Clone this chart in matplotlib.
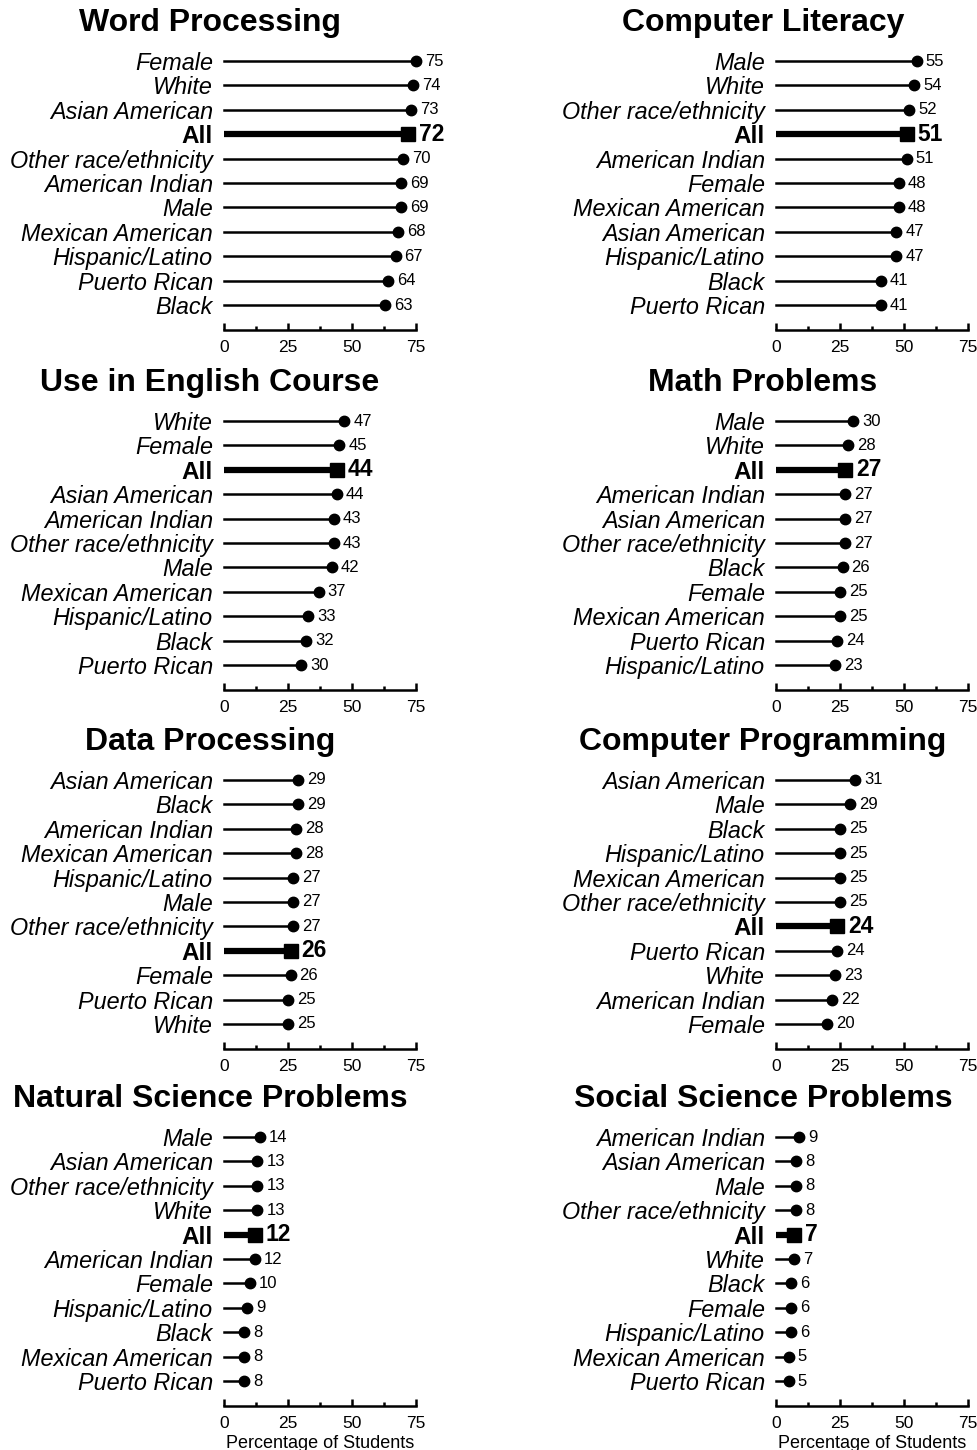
import matplotlib
matplotlib.use('Agg')
import matplotlib.pyplot as plt
from matplotlib.ticker import MultipleLocator

plt.rcParams['font.family'] = ['Liberation Sans', 'DejaVu Sans']

# ---- data (percentage of students) ----
wp_labels = ['Female', 'White', 'Asian American', 'All', 'Other race/ethnicity',
             'American Indian', 'Male', 'Mexican American', 'Hispanic/Latino',
             'Puerto Rican', 'Black']
wp_values = [75, 74, 73, 72, 70, 69, 69, 68, 67, 64, 63]

cl_labels = ['Male', 'White', 'Other race/ethnicity', 'All', 'American Indian',
             'Female', 'Mexican American', 'Asian American', 'Hispanic/Latino',
             'Black', 'Puerto Rican']
cl_values = [55, 54, 52, 51, 51, 48, 48, 47, 47, 41, 41]

en_labels = ['White', 'Female', 'All', 'Asian American', 'American Indian',
             'Other race/ethnicity', 'Male', 'Mexican American', 'Hispanic/Latino',
             'Black', 'Puerto Rican']
en_values = [47, 45, 44, 44, 43, 43, 42, 37, 33, 32, 30]

mp_labels = ['Male', 'White', 'All', 'American Indian', 'Asian American',
             'Other race/ethnicity', 'Black', 'Female', 'Mexican American',
             'Puerto Rican', 'Hispanic/Latino']
mp_values = [30, 28, 27, 27, 27, 27, 26, 25, 25, 24, 23]

dp_labels = ['Asian American', 'Black', 'American Indian', 'Mexican American',
             'Hispanic/Latino', 'Male', 'Other race/ethnicity', 'All', 'Female',
             'Puerto Rican', 'White']
dp_values = [29, 29, 28, 28, 27, 27, 27, 26, 26, 25, 25]

cp_labels = ['Asian American', 'Male', 'Black', 'Hispanic/Latino', 'Mexican American',
             'Other race/ethnicity', 'All', 'Puerto Rican', 'White',
             'American Indian', 'Female']
cp_values = [31, 29, 25, 25, 25, 25, 24, 24, 23, 22, 20]

ns_labels = ['Male', 'Asian American', 'Other race/ethnicity', 'White', 'All',
             'American Indian', 'Female', 'Hispanic/Latino', 'Black',
             'Mexican American', 'Puerto Rican']
ns_values = [14, 13, 13, 13, 12, 12, 10, 9, 8, 8, 8]

ss_labels = ['American Indian', 'Asian American', 'Male', 'Other race/ethnicity',
             'All', 'White', 'Black', 'Female', 'Hispanic/Latino',
             'Mexican American', 'Puerto Rican']
ss_values = [9, 8, 8, 8, 7, 7, 6, 6, 6, 5, 5]

panels = [
    ('Word Processing', wp_labels, wp_values),
    ('Computer Literacy', cl_labels, cl_values),
    ('Use in English Course', en_labels, en_values),
    ('Math Problems', mp_labels, mp_values),
    ('Data Processing', dp_labels, dp_values),
    ('Computer Programming', cp_labels, cp_values),
    ('Natural Science Problems', ns_labels, ns_values),
    ('Social Science Problems', ss_labels, ss_values),
]

# ---- layout in pixels ----
W, H = 978, 1450
col_x0 = [224, 776]        # pixel x of value 0
ax_w = 192                 # pixel width for 0..75
row_y0 = [61, 421, 780, 1137]   # first category y per panel row
title_cx = [210, 763]
dy = 24.4
gap = 25


def draw_panel(fig, title, labels, values, col, row):
    y0 = row_y0[row]
    top = y0 - 0.5 * dy
    spine = y0 + 10 * dy + gap
    ax = fig.add_axes([col_x0[col] / W, 1 - spine / H, ax_w / W, (spine - top) / H])
    n = len(labels)
    ys = list(range(n))
    for y, lab, v in zip(ys, labels, values):
        if lab == 'All':
            ax.plot([0, v], [y, y], color='black', lw=4.5, solid_capstyle='butt',
                    clip_on=False)
            ax.plot(v, y, marker='s', ms=10.5, color='black', clip_on=False)
            ax.annotate(str(v), (v, y), xytext=(8, 0), textcoords='offset points',
                        va='center', ha='left', fontsize=16.5, fontweight='bold')
        else:
            ax.plot([0, v], [y, y], color='black', lw=1.8, clip_on=False)
            ax.plot(v, y, marker='o', ms=7.5, color='black', clip_on=False)
            ax.annotate(str(v), (v, y), xytext=(6.5, 0), textcoords='offset points',
                        va='center', ha='left', fontsize=12)

    ax.set_xlim(0, 75)
    ax.set_ylim(n - 1 + gap / dy, -0.5)
    ax.set_yticks(ys)
    ax.set_yticklabels(labels)
    for t, lab in zip(ax.get_yticklabels(), labels):
        if lab == 'All':
            t.set_fontweight('bold')
            t.set_fontsize(17.5)
        else:
            t.set_fontstyle('italic')
            t.set_fontsize(16.8)
    ax.tick_params(axis='y', length=0, pad=8)
    ax.xaxis.set_major_locator(MultipleLocator(25))
    ax.xaxis.set_minor_locator(MultipleLocator(12.5))
    ax.tick_params(axis='x', which='major', direction='in', length=5, width=1.8,
                   labelsize=12.5, pad=7)
    ax.tick_params(axis='x', which='minor', direction='in', length=3, width=1.8)
    for s in ('top', 'right', 'left'):
        ax.spines[s].set_visible(False)
    ax.spines['bottom'].set_linewidth(1.8)
    ax.patch.set_alpha(0)
    if row == 3:
        ax.set_xlabel('Percentage of Students', fontsize=13, labelpad=3)

    fig.text(title_cx[col] / W, 1 - (y0 - 38) / H, title, ha='center', va='center',
             fontsize=23, fontweight='bold')


fig = plt.figure(figsize=(W / 100, H / 100), dpi=100)
for i, (title, labels, values) in enumerate(panels):
    draw_panel(fig, title, labels, values, i % 2, i // 2)

fig.savefig('out.png', dpi=100)
plt.close(fig)
